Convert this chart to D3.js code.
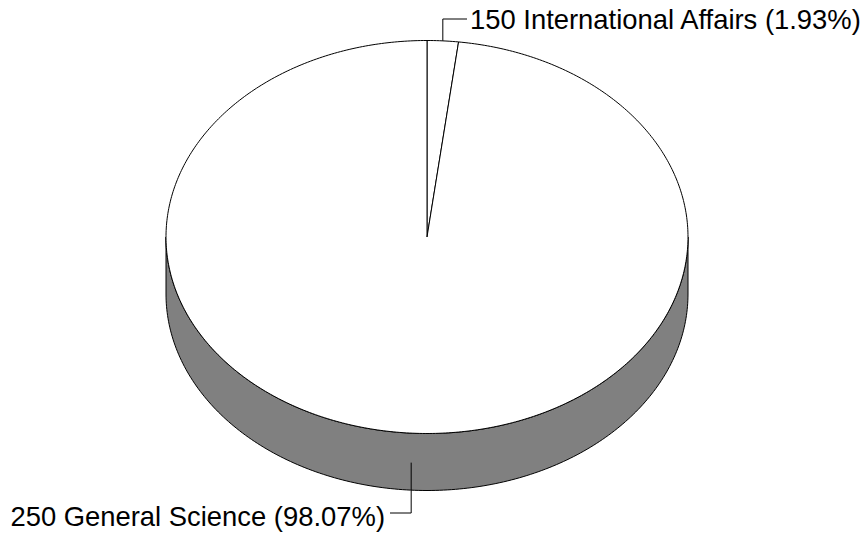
<!DOCTYPE html>
<html><head><meta charset="utf-8">
<script src="https://cdn.jsdelivr.net/npm/d3@7"></script>
<style>html,body{margin:0;padding:0;background:#fff;}</style>
</head><body>
<svg id="chart" width="865" height="533"></svg>
<script>
const categories = ["150 International Affairs", "250 General Science"];
const values = [1.93, 98.07];
const percentLabels = ["1.93%", "98.07%"];

const W = 865, H = 533;
const cx = 427, cy = 237, rx = 261, ry = 196.5, depth = 57;
const svg = d3.select("#chart");

const pie = d3.pie().sort(null).value(d => d.value).startAngle(0).endAngle(2 * Math.PI);
const arcs = pie(categories.map((c, i) => ({name: c, value: values[i], pct: percentLabels[i]})));

const px = a => cx + rx * Math.sin(a);
const py = (a, dy = 0) => cy - ry * Math.cos(a) + dy;
const line = d3.line().x(d => d[0]).y(d => d[1]);

function samples(a0, a1, n) {
  const s = [];
  for (let i = 0; i <= n; i++) s.push(a0 + (a1 - a0) * i / n);
  return s;
}

// side wall (front half)
arcs.forEach(d => {
  const a0 = Math.max(d.startAngle, Math.PI / 2), a1 = Math.min(d.endAngle, 3 * Math.PI / 2);
  if (a1 <= a0) return;
  const top = samples(a0, a1, 200).map(a => [px(a), py(a)]);
  const bot = samples(a1, a0, 200).map(a => [px(a), py(a, depth)]);
  svg.append("path").attr("d", line(top.concat(bot)) + "Z")
    .attr("fill", "#808080").attr("stroke", "#000").attr("stroke-width", 1);
});

// top slices
arcs.forEach(d => {
  const n = Math.max(4, Math.ceil((d.endAngle - d.startAngle) * 80));
  const pts = [[cx, cy]].concat(samples(d.startAngle, d.endAngle, n).map(a => [px(a), py(a)]));
  svg.append("path").attr("d", line(pts) + "Z")
    .attr("fill", "#fff").attr("stroke", "#000").attr("stroke-width", 1).attr("stroke-linejoin", "round");
});

// labels
const font = "'Liberation Sans', Arial, sans-serif";
const fs = 27.4;
arcs.forEach(d => {
  const m = (d.startAngle + d.endAngle) / 2;
  const x0 = px(m);
  const front = Math.cos(m) < 0;
  const text = `${d.data.name} (${d.data.pct})`;
  if (!front) {
    const y0 = py(m), yl = 19, xe = 467;
    svg.append("path").attr("d", line([[x0, y0], [x0, yl], [xe, yl]]))
      .attr("fill", "none").attr("stroke", "#000").attr("stroke-width", 1);
    svg.append("text").attr("x", xe + 3).attr("y", 29)
      .attr("font-family", font).attr("font-size", fs).attr("fill", "#000").text(text);
  } else {
    const y0 = py(m, depth / 2 + 1), yl = 513, xe = 390;
    svg.append("path").attr("d", line([[x0, y0], [x0, yl], [xe, yl]]))
      .attr("fill", "none").attr("stroke", "#000").attr("stroke-width", 1);
    svg.append("text").attr("x", xe - 5).attr("y", 526)
      .attr("text-anchor", "end")
      .attr("font-family", font).attr("font-size", fs).attr("fill", "#000").text(text);
  }
});
</script>
</body></html>
